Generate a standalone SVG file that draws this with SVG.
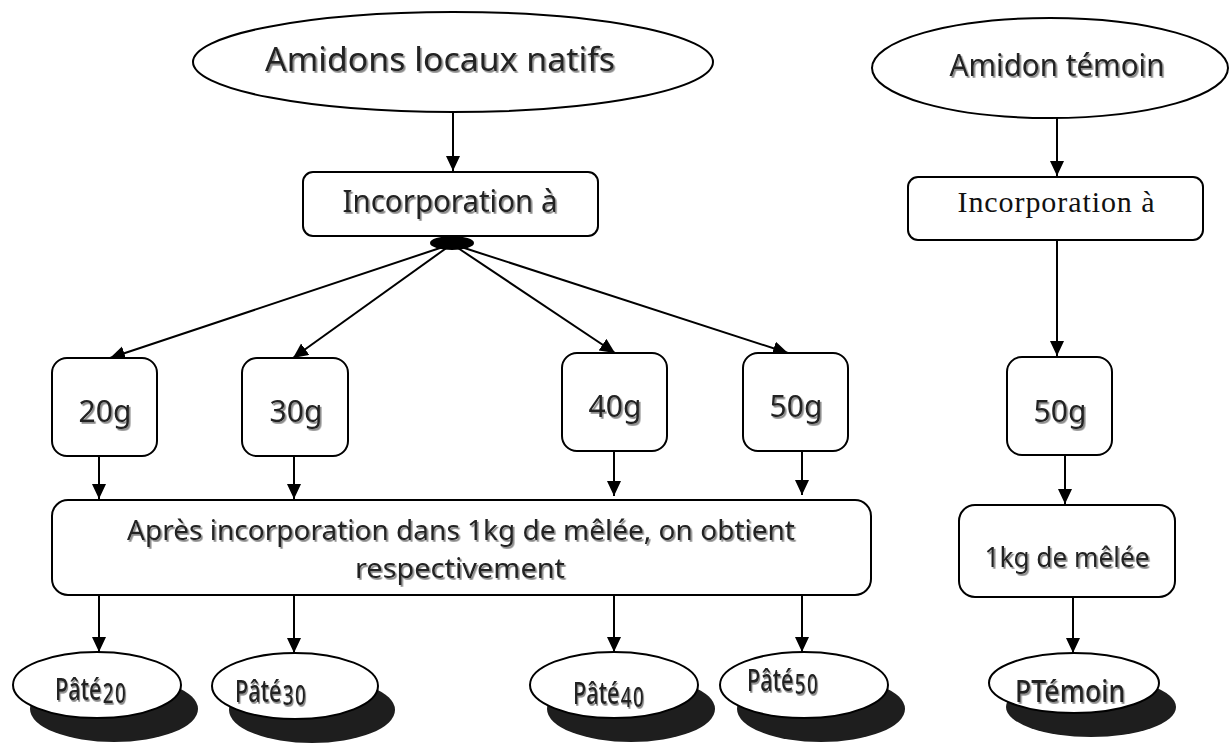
<svg xmlns="http://www.w3.org/2000/svg" width="1231" height="744" viewBox="0 0 1231 744">
<defs>
<marker id="ah" markerUnits="userSpaceOnUse" markerWidth="16" markerHeight="16" refX="15" refY="7" orient="auto">
<path d="M0,0 L15,7 L0,14 z" fill="#000"/>
</marker>
<filter id="ts" x="-5%" y="-20%" width="110%" height="150%">
<feDropShadow dx="1.6" dy="1.8" stdDeviation="0.7" flood-color="#8a8a8a"/>
</filter>
</defs>
<style>
.sh{fill:#fff;stroke:#000;stroke-width:2}
.shadow{fill:#1e1e1e;stroke:none}
.t{font-family:"Noto Sans","DejaVu Sans",sans-serif;fill:#222;filter:url(#ts)}
.s{font-family:"Liberation Serif","Times New Roman",serif;fill:#111}
.c{stroke:#000;stroke-width:2;fill:none;marker-end:url(#ah)}
.p{font-size:31px;font-weight:500}
.sub{font-size:27px;letter-spacing:2px}
</style>
<rect width="1231" height="744" fill="#fff"/>

<g id="connectors">
<line class="c" x1="453" y1="112" x2="453" y2="171"/>
<ellipse cx="452" cy="243" rx="22" ry="7" fill="#000"/>
<line class="c" x1="452" y1="244" x2="110" y2="358"/>
<line class="c" x1="452" y1="244" x2="293" y2="358"/>
<line class="c" x1="452" y1="244" x2="615" y2="353"/>
<line class="c" x1="452" y1="244" x2="788" y2="353"/>
<line class="c" x1="99" y1="456" x2="99" y2="499"/>
<line class="c" x1="294" y1="456" x2="294" y2="499"/>
<line class="c" x1="614" y1="451" x2="614" y2="496"/>
<line class="c" x1="802" y1="451" x2="802" y2="495"/>
<line class="c" x1="99" y1="595" x2="99" y2="652"/>
<line class="c" x1="294" y1="595" x2="294" y2="653"/>
<line class="c" x1="614" y1="595" x2="614" y2="652"/>
<line class="c" x1="802" y1="595" x2="802" y2="652"/>
<line class="c" x1="1057" y1="118" x2="1057" y2="176"/>
<line class="c" x1="1057" y1="238" x2="1057" y2="356"/>
<line class="c" x1="1065" y1="456" x2="1065" y2="504"/>
<line class="c" x1="1073" y1="597" x2="1073" y2="653"/>
</g>

<g id="amidons-locaux">
<ellipse class="sh" cx="453" cy="62" rx="260" ry="50"/>
<text class="t" x="440" y="71" font-size="33" text-anchor="middle" textLength="350" lengthAdjust="spacingAndGlyphs">Amidons locaux natifs</text>
</g>

<g id="incorporation-1">
<rect class="sh" x="303" y="172" width="295" height="64" rx="10"/>
<text class="t" x="450" y="212" font-size="30" text-anchor="middle" textLength="215" lengthAdjust="spacingAndGlyphs">Incorporation à</text>
</g>

<g id="q20">
<rect class="sh" x="52" y="358" width="105" height="98" rx="15"/>
<text class="t" x="105" y="422" font-size="30" text-anchor="middle">20g</text>
</g>
<g id="q30">
<rect class="sh" x="242" y="358" width="106" height="98" rx="15"/>
<text class="t" x="296" y="422" font-size="30" text-anchor="middle">30g</text>
</g>
<g id="q40">
<rect class="sh" x="562" y="353" width="105" height="98" rx="15"/>
<text class="t" x="615" y="417" font-size="30" text-anchor="middle">40g</text>
</g>
<g id="q50">
<rect class="sh" x="743" y="353" width="105" height="98" rx="15"/>
<text class="t" x="796" y="417" font-size="30" text-anchor="middle">50g</text>
</g>

<g id="apres-incorporation">
<rect class="sh" x="52" y="500" width="819" height="95" rx="16"/>
<text class="t" x="461" y="540" font-size="28" text-anchor="middle" textLength="668" lengthAdjust="spacingAndGlyphs">Après incorporation dans 1kg de mêlée, on obtient</text>
<text class="t" x="460" y="578" font-size="28" text-anchor="middle" textLength="210" lengthAdjust="spacingAndGlyphs">respectivement</text>
</g>

<g id="pate20">
<ellipse class="shadow" cx="114" cy="709" rx="84" ry="33"/>
<ellipse class="sh" cx="97" cy="685" rx="84" ry="33"/>
<text class="t p" transform="translate(55 700) scale(0.7 1)">Pâté<tspan class="sub" dx="2" dy="3">20</tspan></text>
</g>
<g id="pate30">
<ellipse class="shadow" cx="312" cy="710" rx="83" ry="33"/>
<ellipse class="sh" cx="295" cy="686" rx="83" ry="33"/>
<text class="t p" transform="translate(235 702) scale(0.7 1)">Pâté<tspan class="sub" dx="2" dy="3">30</tspan></text>
</g>
<g id="pate40">
<ellipse class="shadow" cx="631" cy="709" rx="84" ry="33"/>
<ellipse class="sh" cx="614" cy="685" rx="84" ry="33"/>
<text class="t p" transform="translate(573 704) scale(0.7 1)">Pâté<tspan class="sub" dx="2" dy="3">40</tspan></text>
</g>
<g id="pate50">
<ellipse class="shadow" cx="821" cy="709" rx="84" ry="33"/>
<ellipse class="sh" cx="804" cy="685" rx="84" ry="33"/>
<text class="t p" transform="translate(747 691) scale(0.7 1)">Pâté<tspan class="sub" dx="2" dy="3">50</tspan></text>
</g>

<g id="amidon-temoin">
<ellipse class="sh" cx="1050" cy="68" rx="178" ry="50"/>
<text class="t" x="1057" y="76" font-size="31" text-anchor="middle" textLength="215" lengthAdjust="spacingAndGlyphs">Amidon témoin</text>
</g>
<g id="incorporation-2">
<rect class="sh" x="908" y="177" width="295" height="63" rx="10"/>
<text class="s" x="1056" y="212" font-size="30" text-anchor="middle" textLength="197">Incorporation à</text>
</g>
<g id="t50">
<rect class="sh" x="1007" y="357" width="105" height="98" rx="15"/>
<text class="t" x="1060" y="422" font-size="30" text-anchor="middle">50g</text>
</g>
<g id="melee">
<rect class="sh" x="959" y="505" width="216" height="92" rx="16"/>
<text class="t" x="1067" y="567" font-size="28" text-anchor="middle" textLength="165" lengthAdjust="spacingAndGlyphs">1kg de mêlée</text>
</g>
<g id="ptemoin">
<ellipse class="shadow" cx="1091" cy="707" rx="85" ry="30"/>
<ellipse class="sh" cx="1074" cy="683" rx="85" ry="30"/>
<text class="t p" transform="translate(1015 702) scale(0.86 1)">PTémoin</text>
</g>
</svg>
